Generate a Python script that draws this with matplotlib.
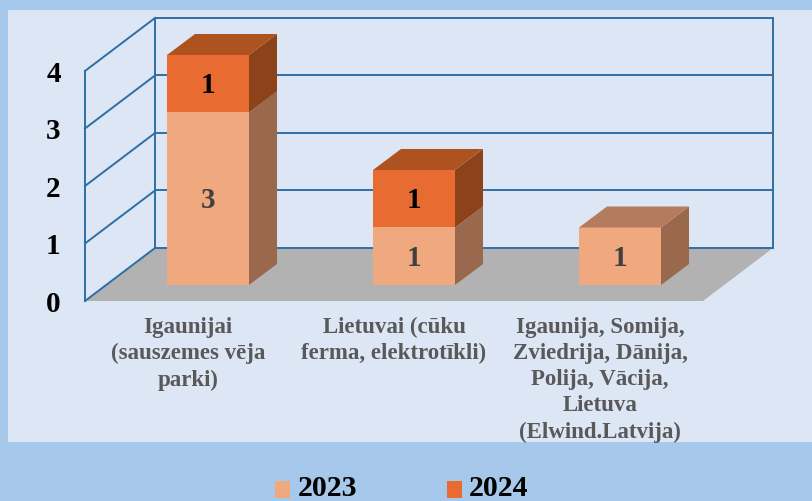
import matplotlib.pyplot as plt
from matplotlib.legend_handler import HandlerPatch
from matplotlib.patches import Polygon, Rectangle

categories = ['Igaunijai\n(sauszemes vēja\nparki)',
              'Lietuvai (cūku\nferma, elektrotīkli)',
              'Igaunija, Somija,\nZviedrija, Dānija,\nPolija, Vācija,\nLietuva\n(Elwind.Latvija)']
series_2023 = [3, 1, 1]
series_2024 = [1, 1, 0]
y_ticks = [0, 1, 2, 3, 4]

# colours: front, side, top
light = ('#F0A97F', '#9A684D', '#B57B5E')
dark = ('#E86C32', '#8C431A', '#AE5220')
grid_color = '#2F6EA5'

W, H = 812, 501
plt.rcParams['font.family'] = ['Liberation Serif', 'DejaVu Serif']
plt.rcParams['font.weight'] = 'bold'

fig = plt.figure(figsize=((W + 0.01) / 100, (H + 0.01) / 100), dpi=100, facecolor='#A6C8EB')
fig.patches.append(Rectangle((8 / W, 1 - 442 / H), 1 - 8 / W, 432 / H, transform=fig.transFigure,
                             facecolor='#DCE6F5', edgecolor='none', zorder=-1))

# front plane of the 3d box
ax = fig.add_axes([85 / W, 1 - 301 / H, 618 / W, 230 / H])
ax.set_xlim(-0.5, 2.5)
ax.set_ylim(0, 4)
ax.patch.set_visible(False)
for s in ax.spines.values():
    s.set_visible(False)

# depth offsets in data units
px_x = 3 / 618
px_y = 4 / 230
wall_dx, wall_dy = 70 * px_x, 53 * px_y
bar_dx, bar_dy = 28 * px_x, 21 * px_y
base_dx, base_dy = 20 * px_x, 16 * px_y
bar_w = 82 * 3 / 618


def poly(points, color, z, **kw):
    ax.add_patch(Polygon(points, closed=True, facecolor=color, edgecolor='none',
                         zorder=z, clip_on=False, **kw))


# floor
poly([(-0.5, 0), (2.5, 0), (2.5 + wall_dx, wall_dy), (-0.5 + wall_dx, wall_dy)], '#B2B2B2', 1)

# walls and grid
for v in y_ticks:
    ax.plot([-0.5, -0.5 + wall_dx], [v, v + wall_dy], color=grid_color, lw=1.4, zorder=2, clip_on=False)
    ax.plot([-0.5 + wall_dx, 2.5 + wall_dx], [v + wall_dy, v + wall_dy], color=grid_color, lw=1.4,
            zorder=2, clip_on=False)
ax.plot([-0.5, -0.5], [0, 4], color=grid_color, lw=1.4, zorder=2, clip_on=False)
ax.plot([-0.5 + wall_dx] * 2, [wall_dy, 4 + wall_dy], color=grid_color, lw=1.4, zorder=2, clip_on=False)
ax.plot([2.5 + wall_dx] * 2, [wall_dy, 4 + wall_dy], color=grid_color, lw=1.4, zorder=2, clip_on=False)

# stacked bars
for i in range(len(categories)):
    x0 = i + base_dx - bar_w / 2
    x1 = x0 + bar_w
    bottom = 0
    for vals, cols, txt in ((series_2023, light, '#404040'), (series_2024, dark, 'black')):
        v = vals[i]
        if v == 0:
            continue
        y0 = bottom + base_dy
        y1 = y0 + v
        ax.bar(x0, v, width=bar_w, bottom=y0, align='edge', color=cols[0], zorder=4, clip_on=False)
        poly([(x1, y0), (x1 + bar_dx, y0 + bar_dy), (x1 + bar_dx, y1 + bar_dy), (x1, y1)], cols[1], 4)
        ax.text((x0 + x1) / 2, (y0 + y1) / 2 - 2 * px_y, str(v), ha='center', va='center', color=txt,
                fontsize=21, zorder=6)
        top = [(x0, y1), (x1, y1), (x1 + bar_dx, y1 + bar_dy), (x0 + bar_dx, y1 + bar_dy)]
        top_color = cols[2]
        bottom += v
    poly(top, top_color, 5)

ax.set_yticks(y_ticks)
ax.set_yticklabels([str(v) for v in y_ticks], fontsize=21, color='black')
ax.set_xticks(range(len(categories)))
ax.set_xticklabels(categories, fontsize=16.5, color='#595959', linespacing=1.32)
ax.tick_params(axis='both', length=0)
ax.tick_params(axis='y', pad=17.5)
ax.tick_params(axis='x', pad=11.5)


def low_square(legend, orig_handle, xdescent, ydescent, width, height, fontsize):
    # the squares sit a bit lower than matplotlib puts them
    return Rectangle((-xdescent, -ydescent - 3.2), width, height)


# legend
h1 = Rectangle((0, 0), 1, 1, facecolor=light[0])
h2 = Rectangle((0, 0), 1, 1, facecolor=dark[0])
fig.legend([h1, h2], ['2023', '2024'], ncol=2, frameon=False, fontsize=21.5,
           loc='center', bbox_to_anchor=(402 / W, 1 - 488 / H), handlelength=0.5, handleheight=0.5,
           handletextpad=0.25, columnspacing=3.0, borderpad=0, labelcolor='black',
           handler_map={Rectangle: HandlerPatch(patch_func=low_square)})

fig.savefig('out.png', dpi=100, facecolor=fig.get_facecolor())
